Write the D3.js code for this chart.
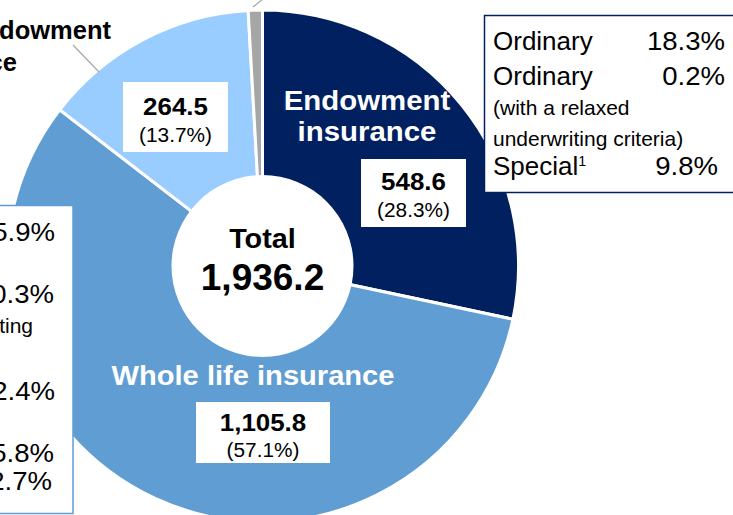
<!DOCTYPE html>
<html><head><meta charset="utf-8">
<script src="https://cdn.jsdelivr.net/npm/d3@7"></script>
<style>
html,body{margin:0;padding:0;background:#fff;overflow:hidden;}
svg{display:block;font-family:Arial,"Liberation Sans",sans-serif;}
</style></head>
<body>
<svg id="c" width="733" height="515"></svg>
<script>
// ---- data ----
const categories = ["Endowment insurance", "Whole life insurance", "Endowment insurance (other)", "Other"];
const values = [548.6, 1105.8, 264.5, 17.3];
const shares = ["28.3%", "57.1%", "13.7%", "0.9%"];
const totalLabel = "1,936.2";
const colors = ["#002060", "#609dd2", "#99ccff", "#a6a6a6"];

const rightBoxLabels = ["Ordinary", "Ordinary", "(with a relaxed", "underwriting criteria)", "Special"];
const rightBoxValues = ["18.3%", "0.2%", "", "", "9.8%"];
const leftBoxLabels = ["Ordinary", "Ordinary", "(with a relaxed underwriting", "criteria)", "Special", "", ""];
const leftBoxValues = ["25.9%", "0.3%", "", "", "22.4%", "5.8%", "2.7%"];

// ---- chart ----
const svg = d3.select("#c");
const cx = 262.5, cy = 266, rOuter = 256, rInner = 91;
const g = svg.append("g").attr("transform", `translate(${cx},${cy})`);

const pie = d3.pie().sort(null).value(d => d)(values);
const arc = d3.arc().innerRadius(0).outerRadius(rOuter);

g.selectAll("path.slice").data(pie).join("path")
  .attr("class", "slice")
  .attr("d", arc)
  .attr("fill", (d, i) => colors[i])
  .attr("stroke", "#fff")
  .attr("stroke-width", 3)
  .attr("stroke-linejoin", "miter");

g.append("circle").attr("r", rInner).attr("fill", "#fff");

// text helper with horizontal stretch
function txt(x, y, s, o = {}) {
  const t = svg.append("g").attr("transform", `translate(${x},${y}) scale(${o.sx || 1},1)`)
    .append("text")
    .attr("text-anchor", o.anchor || "start")
    .attr("font-size", o.size || 16)
    .attr("font-weight", o.weight || "normal")
    .attr("fill", o.fill || "#000");
  t.append("tspan").text(s);
  if (o.sup) t.append("tspan").attr("font-size", o.size * 0.55).attr("dy", -o.size * 0.38).text(o.sup);
  return t;
}

// center text
txt(cx, 248, "Total", {anchor: "middle", weight: "bold", size: 28, sx: 1.03});
txt(cx, 290, totalLabel, {anchor: "middle", weight: "bold", size: 37});

// slice name labels
txt(367, 110, "Endowment", {anchor: "middle", weight: "bold", size: 28, sx: 1.05, fill: "#fff"});
txt(367, 141, "insurance", {anchor: "middle", weight: "bold", size: 28, sx: 1.05, fill: "#fff"});
txt(253, 385, "Whole life insurance", {anchor: "middle", weight: "bold", size: 28, sx: 1.04, fill: "#fff"});

// value boxes
function valueBox(i, x, y, w, h, o1, o2) {
  svg.append("rect").attr("x", x).attr("y", y).attr("width", w).attr("height", h).attr("fill", "#fff");
  txt(x + w / 2, y + o1, d3.format(",.1f")(values[i]), {anchor: "middle", weight: "bold", size: 24, sx: 1.08});
  txt(x + w / 2, y + o2, "(" + shares[i] + ")", {anchor: "middle", size: 20, sx: 1.04});
}
valueBox(0, 361, 159, 105, 68, 31, 58);
valueBox(2, 123, 82, 105, 70, 33, 60);
valueBox(1, 196, 402, 134, 61, 29, 55);

// leader lines and outer labels
svg.append("line").attr("x1", 99).attr("y1", 72).attr("x2", 73).attr("y2", 45)
  .attr("stroke", "#a6a6a6").attr("stroke-width", 1.2);
svg.append("line").attr("x1", 253).attr("y1", 7).attr("x2", 263).attr("y2", -1)
  .attr("stroke", "#a6a6a6").attr("stroke-width", 1.2);
txt(111, 39, "Endowment", {anchor: "end", weight: "bold", size: 25, sx: 1.02});
txt(17, 71, "insurance", {anchor: "end", weight: "bold", size: 25, sx: 1.02});

// right box
svg.append("rect").attr("x", 484.5).attr("y", 15.5).attr("width", 260).attr("height", 177)
  .attr("fill", "#fff").attr("stroke", "#002060").attr("stroke-width", 1.5);
const rbY = [50, 85, 115, 146, 175];
const rbEnd = [725, 725, 725, 725, 718];
rightBoxLabels.forEach((t, i) => {
  const small = (i === 2 || i === 3);
  txt(493, rbY[i], t, {size: small ? 20 : 25, sx: small ? 1.05 : 1.04, sup: i === 4 ? "1" : null});
  if (rightBoxValues[i]) txt(rbEnd[i], rbY[i], rightBoxValues[i], {anchor: "end", size: 26, sx: 1.06});
});

// left box
svg.append("rect").attr("x", -200).attr("y", 205.5).attr("width", 273).attr("height", 308)
  .attr("fill", "#fff").attr("stroke", "#609dd2").attr("stroke-width", 1.5);
const lbY = [241, 303, 333, 363, 400, 462, 490];
const lbEnd = [55, 54, 33, 33, 55, 54, 52];
leftBoxLabels.forEach((t, i) => {
  const small = (i === 2 || i === 3);
  if (i === 2) {
    txt(lbEnd[i], lbY[i], t, {anchor: "end", size: 20, sx: 1.05});
  } else if (t) {
    txt(-190, lbY[i], t, {size: small ? 20 : 25, sx: 1.04, sup: i === 4 ? "1" : null});
  }
  if (leftBoxValues[i]) txt(lbEnd[i], lbY[i], leftBoxValues[i], {anchor: "end", size: 26, sx: 1.06});
});
</script>
</body></html>
